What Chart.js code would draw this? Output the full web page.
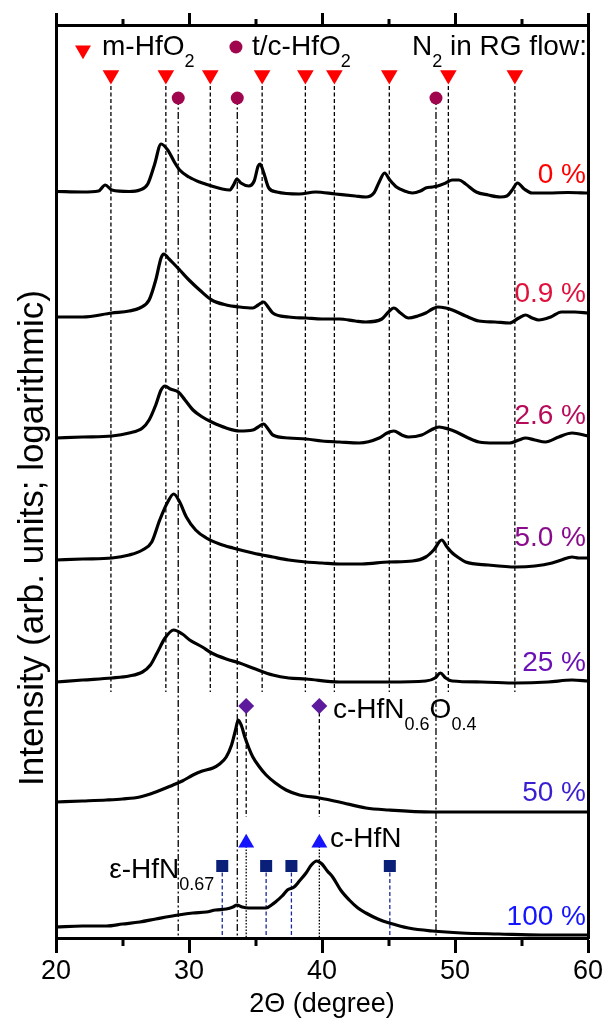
<!DOCTYPE html>
<html>
<head>
<meta charset="utf-8">
<script src="https://cdn.jsdelivr.net/npm/chart.js@4/dist/chart.umd.min.js"></script>
<style>
html,body{margin:0;padding:0;background:#fff;}
#c{display:block;}
</style>
</head>
<body>
<canvas id="c" width="606" height="1023"></canvas>
<script>
// ---------- DATA (2θ in degrees, intensity in arb. units incl. vertical offset) ----------
const tt_0   = [20,22,23.2,23.7,24.2,25.5,26.3,26.9,27.4,27.9,28.4,28.9,29.3,30,30.8,31.7,32.5,33.05,33.35,33.6,33.9,34.5,34.9,35.2,35.35,35.6,36,36.6,38.3,39.5,41,42.5,43.3,43.9,44.3,44.7,45.1,45.6,46.2,46.8,47.4,47.8,48.3,48.7,49.3,49.8,50.3,50.8,51.6,52.5,53.4,53.9,54.3,54.7,55.2,55.8,57,58.5,60];
const int_0  = [74.65,74.6,74.7,75.3,74.8,74.65,74.8,75.4,77.3,79.4,78.8,77.6,76.8,76.1,75.6,75.2,74.9,74.8,75.3,75.9,75.5,75.2,75.7,77.2,77.4,76.6,75.0,74.6,74.4,74.6,74.4,74.2,74.1,74.5,75.6,76.5,75.8,75.1,74.7,74.5,74.7,75.0,75.1,75.2,75.5,75.8,75.8,75.4,74.6,74.3,74.1,74.2,74.8,75.5,74.9,74.5,74.5,74.55,74.5];

const tt_09  = [20,22,24.2,25.5,26.3,27,27.5,27.9,28.1,28.5,28.8,29.3,30,30.8,31.7,32.8,33.8,34.8,35.2,35.6,36,36.3,37.5,38.8,40,41.3,42.5,43.3,44.5,45,45.4,45.9,46.5,47.2,47.8,48.3,48.7,49.3,49.8,50.8,51.8,53,54.1,54.8,55.3,55.8,56.3,57.2,58,59,60];
const int_09 = [62.1,62.1,62.5,62.7,63.0,63.8,65.8,68.0,68.4,67.9,67.5,66.8,65.8,64.8,63.8,63.3,63.1,63.0,63.3,63.6,63.0,62.5,62.1,62.0,61.9,61.9,61.7,61.6,61.9,62.6,63.0,62.5,62.0,62.2,62.5,62.9,63.1,63.0,62.8,62.2,61.7,61.6,61.5,62.0,62.3,62.0,61.8,62.1,62.6,62.6,62.5];

const tt_26  = [20,22,24.2,25.5,26.5,27,27.5,27.9,28.2,28.6,29.2,29.7,30.3,31,31.7,32.8,33.8,34.8,35.2,35.6,36,36.3,37.5,38.8,40,41.3,42.8,44.3,44.9,45.4,46,46.5,47.5,48.2,48.8,49.5,50.1,51,51.8,53,54.1,54.8,55.3,56,56.8,57.8,58.8,60];
const int_26 = [50.0,50.1,50.2,50.5,51.0,51.8,53.3,54.8,55.2,54.9,54.6,53.8,52.8,52.1,51.6,51.0,50.7,50.8,51.1,51.4,50.8,50.3,50.0,49.9,49.7,49.6,49.5,50.0,50.5,50.7,50.3,50.1,50.3,50.8,51.1,50.9,50.6,50.0,49.6,49.5,49.5,49.8,50.0,49.8,49.6,50.1,50.5,50.2];

const tt_50  = [20,22,24.2,25.5,26.5,27.2,27.8,28.4,28.85,29.3,29.8,30.5,31.3,32.3,33.3,34.8,36.3,37.5,38.8,40,41.3,43,45,46.8,47.8,48.4,49,49.4,49.8,50.3,50.8,52.5,54.6,56,57.3,58,58.8,59.3,60];
const int_50 = [37.8,37.9,38.0,38.3,38.8,39.6,41.8,43.6,44.4,43.6,42.1,40.8,40.0,39.4,39.0,38.5,38.1,37.8,37.6,37.5,37.4,37.4,37.6,37.7,38.1,38.8,39.8,39.1,38.5,38.0,37.6,37.3,37.1,37.2,37.5,37.8,38.1,38.0,38.0];

const tt_25  = [20,22,24.2,25.5,26.5,27.1,27.6,28.2,28.85,29.5,30.05,31,31.7,32.8,33.8,35,36.3,37.5,38.8,41.3,43,45,47.8,48.5,48.9,49.3,49.8,52,54.6,57,58.8,60];
const int_25 = [25.6,25.8,26.0,26.2,26.6,27.3,28.5,30.0,30.8,30.4,29.8,29.1,28.5,27.9,27.5,26.9,26.3,26.0,25.9,25.6,25.6,25.6,25.7,26.0,26.5,26.0,25.7,25.6,25.5,25.6,25.8,25.7];

const tt_500  = [20,22,23.8,25,26.3,27.5,28.8,29.5,30.3,31,31.8,32.3,32.8,33.2,33.5,33.7,33.95,34.2,34.5,34.8,35.3,35.8,36.5,37.3,38.3,39.8,41.3,43.3,45,48.3,52,56,60];
const int_500 = [13.6,13.7,13.8,13.9,14.1,14.6,15.3,15.7,16.3,16.7,17.0,17.4,18.1,19.3,20.8,21.8,21.2,20.1,19.0,18.1,17.1,16.3,15.5,14.8,14.3,14.0,13.6,13.0,12.8,12.6,12.6,12.6,12.6];

const tt_100  = [20,22,23.8,25,26.3,27.5,29.2,30.3,31.3,32,32.8,33.3,33.6,34,34.5,35.3,35.8,36.2,36.5,37,37.4,37.9,38.3,38.8,39.2,39.6,40,40.4,40.8,41.4,42.05,42.7,43.3,44.2,45.05,46.5,48.3,50.5,53.3,56.5,60];
const int_100 = [1.1,1.2,1.2,1.4,1.6,1.9,2.3,2.5,2.6,2.8,2.9,3.1,3.3,3.1,3.0,3.0,3.0,3.3,3.6,4.2,4.8,5.1,5.7,6.5,7.3,7.7,7.4,6.7,6.1,4.8,3.8,3.0,2.5,1.9,1.5,1.0,0.7,0.5,0.4,0.3,0.3];

// reference peak positions (2θ)
const mHfO2   = [24.13, 28.26, 31.6, 35.5, 38.75, 40.93, 45.06, 49.5, 54.5];
const tcHfO2  = [29.19, 33.63, 48.57];
const cHfNO   = [34.3, 39.8];
const cHfN    = [34.3, 39.8];
const epsHfN  = [32.5, 35.8, 37.7, 45.1];

const xTicks      = [20, 30, 40, 50, 60];
const xMinorTicks = [25, 35, 45, 55];
const seriesLabels = ['0 %', '0.9 %', '2.6 %', '5.0 %', '25 %', '50 %', '100 %'];

// ---------- BUILD ----------
const FONT = "'Liberation Sans', Arial, Helvetica, sans-serif";
const curves = [[tt_0,int_0],[tt_09,int_09],[tt_26,int_26],[tt_50,int_50],[tt_25,int_25],[tt_500,int_500],[tt_100,int_100]];
const labelColors = ['#ff0000','#e0103c','#b80a5a','#8a0a8c','#6a10b4','#3c1ed0','#1414ff'];
const labelY = [76.3, 64.4, 52.2, 40.0, 27.5, 14.5, 2.1];

const datasets = [];
function vline(x, y1, y2, color, dash, order) {
  datasets.push({data:[{x:x,y:y1},{x:x,y:y2}], showLine:true, borderColor:color, borderWidth:1.3,
    borderDash:dash, pointRadius:0, order:order, clip:false});
}
mHfO2.forEach(x => vline(x, 85.2, 24.6, '#000', [4,2.5], 10));
tcHfO2.forEach(x => vline(x, 84.0, 0, '#000', [7,2.5,2,2.5], 10));
cHfNO.forEach(x => vline(x, 23.2, 12.1, '#000', [4,2.5], 10));
cHfN.forEach(x => vline(x, 9.5, 0, '#000', [1.6,1.6], 10));
epsHfN.forEach(x => vline(x, 7.2, 0, '#1a2a9a', [4,2.5], 10));

curves.forEach(([xs, ys]) => {
  datasets.push({data: xs.map((x,i)=>({x:x, y:ys[i]})), showLine:true, borderColor:'#000',
    borderWidth:3.2, pointRadius:0, cubicInterpolationMode:'monotone', order:2});
});

function markers(xs, y, style, radius, color, rotation) {
  datasets.push({data: xs.map(x=>({x:x,y:y})), pointStyle:style, pointRadius:radius,
    pointBackgroundColor:color, pointBorderWidth:0, pointBorderColor:color, pointRotation:rotation||0,
    showLine:false, order:0, clip:false});
}
markers(mHfO2, 86.3, 'triangle', 9.6, '#ff0000', 180);
markers(tcHfO2, 84.0, 'circle', 6.5, '#a0064e');
markers(cHfNO, 23.2, 'rectRot', 8, '#5e1a9c');
markers(cHfN, 9.5, 'triangle', 9.2, '#1414ff');
markers(epsHfN, 7.2, 'rect', 8.5, '#0a1f78');

// ---------- TEXT / DECOR PLUGIN ----------
function rich(ctx, parts, px, py, align, size, color) {
  const fb = size + 'px ' + FONT, fs = Math.round(size*0.63) + 'px ' + FONT;
  let w = 0;
  parts.forEach(p => { ctx.font = p[1] ? fs : fb; w += ctx.measureText(p[0]).width; });
  let cx = align === 'right' ? px - w : px;
  ctx.fillStyle = color; ctx.textAlign = 'left'; ctx.textBaseline = 'alphabetic';
  parts.forEach(p => { ctx.font = p[1] ? fs : fb; ctx.fillText(p[0], cx, p[1] ? py + size*0.42 : py); cx += ctx.measureText(p[0]).width; });
}

const decor = {
  id: 'decor',
  afterDraw(chart) {
    const ctx = chart.ctx, xs = chart.scales.x, ys = chart.scales.y, ca = chart.chartArea;
    const X = v => xs.getPixelForValue(v), Y = v => ys.getPixelForValue(v);
    ctx.save();
    // minor ticks
    ctx.strokeStyle = '#000'; ctx.lineWidth = 3;
    xMinorTicks.forEach(v => {
      const p = Math.round(X(v));
      ctx.beginPath(); ctx.moveTo(p, ca.bottom); ctx.lineTo(p, ca.bottom + 8);
      ctx.moveTo(p, ca.top); ctx.lineTo(p, ca.top - 6); ctx.stroke();
    });
    // legend symbols
    ctx.fillStyle = '#ff0000';
    const lx = X(22.03), ly = Y(88.8), r = 9.2;
    ctx.beginPath();
    ctx.moveTo(lx - r*0.866, ly - r/2); ctx.lineTo(lx + r*0.866, ly - r/2); ctx.lineTo(lx, ly + r); ctx.closePath(); ctx.fill();
    ctx.fillStyle = '#a0064e';
    ctx.beginPath(); ctx.arc(X(33.53), Y(89.1), 6.5, 0, Math.PI*2); ctx.fill();
    // legend text
    rich(ctx, [['m-HfO',0],['2',1]], X(23.46), Y(88.3), 'left', 28, '#000');
    rich(ctx, [['t/c-HfO',0],['2',1]], X(34.74), Y(88.3), 'left', 28, '#000');
    rich(ctx, [['N',0],['2',1],[' in RG flow:',0]], X(59.92), Y(88.3), 'right', 28, '#000');
    // phase labels
    rich(ctx, [['c-HfN',0],['0.6',1],['O',0],['0.4',1]], X(40.83), Y(22.0), 'left', 28, '#000');
    rich(ctx, [['c-HfN',0]], X(40.6), Y(9.1), 'left', 28, '#000');
    rich(ctx, [['\u03b5-HfN',0],['0.67',1]], X(24.0), Y(6.0), 'left', 28, '#000');
    // series labels
    ctx.font = '28px ' + FONT; ctx.textAlign = 'right'; ctx.textBaseline = 'middle';
    seriesLabels.forEach((t,i) => { ctx.fillStyle = labelColors[i]; ctx.fillText(t, X(59.85), Y(labelY[i])); });
    // axis titles
    ctx.fillStyle = '#000'; ctx.font = '27px ' + FONT; ctx.textAlign = 'center'; ctx.textBaseline = 'middle';
    ctx.fillText('2\u0398 (degree)', (ca.left + ca.right)/2, xs.bottom - 18);
    ctx.save();
    ctx.font = '35px ' + FONT;
    ctx.translate(33, 538); ctx.rotate(-Math.PI/2);
    ctx.fillText('Intensity (arb. units; logarithmic)', 0, 0);
    ctx.restore();
    ctx.restore();
  }
};

const tickFont = {size:27, family:FONT};
new Chart(document.getElementById('c'), {
  type: 'scatter',
  data: {datasets: datasets},
  options: {
    responsive:false, animation:false, devicePixelRatio:1,
    layout:{padding:0},
    plugins:{legend:{display:false}, tooltip:{enabled:false}},
    scales:{
      x:{type:'linear', position:'bottom', min:20, max:60,
        afterBuildTicks: s => { s.ticks = xTicks.concat(xMinorTicks).sort((a,b)=>a-b).map(v=>({value:v})); },
        ticks:{color:'#000', font:tickFont, padding:2, maxRotation:0, autoSkip:false,
          callback: v => (xTicks.includes(v) ? String(v) : '')},
        grid:{drawOnChartArea:false, drawTicks:true, tickLength:15, tickWidth:3,
          tickColor: c => (c.tick && xTicks.includes(c.tick.value)) ? '#000' : 'rgba(0,0,0,0)'},
        border:{display:true, width:3, color:'#000'},
        afterFit: s => { s.height = 85; }},
      x2:{type:'linear', position:'top', min:20, max:60,
        afterBuildTicks: s => { s.ticks = xTicks.map(v=>({value:v})); },
        ticks:{display:false},
        grid:{drawOnChartArea:false, drawTicks:true, tickLength:12, tickWidth:3, tickColor:'#000'},
        border:{display:true, width:3, color:'#000'},
        afterFit: s => { s.height = 25; }},
      y:{type:'linear', position:'left', min:0, max:91.3,
        ticks:{display:false}, grid:{display:false},
        border:{display:true, width:3, color:'#000'},
        afterFit: s => { s.width = 56; }},
      y2:{type:'linear', position:'right', min:0, max:91.3,
        ticks:{display:false}, grid:{display:false},
        border:{display:true, width:3, color:'#000'},
        afterFit: s => { s.width = 18; }}
    }
  },
  plugins:[decor]
});
</script>
</body>
</html>
